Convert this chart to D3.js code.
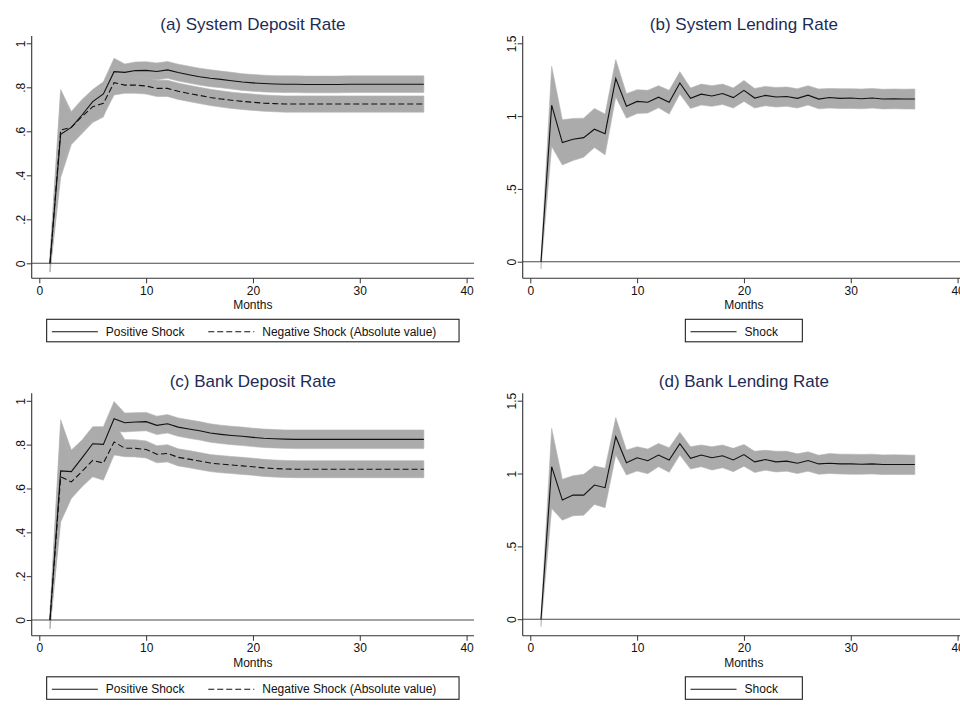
<!DOCTYPE html>
<html>
<head>
<meta charset="utf-8">
<script src="https://cdn.jsdelivr.net/npm/d3@7"></script>
<style>
  body { margin: 0; background: #fff; }
  svg { display: block; font-family: "Liberation Sans", Arial, Helvetica, sans-serif; }
</style>
</head>
<body>
<svg id="chart" width="960" height="705"></svg>
<script>
// months after the shock
var months = [1, 2, 3, 4, 5, 6, 7, 8, 9, 10, 11, 12, 13, 14, 15, 16, 17, 18,
              19, 20, 21, 22, 23, 24, 25, 26, 27, 28, 29, 30, 31, 32, 33, 34, 35, 36];

// (a) system deposit rate
var sdPos   = [0, 0.586, 0.618, 0.674, 0.735, 0.770, 0.871, 0.868, 0.876, 0.877, 0.872, 0.879, 0.867, 0.857, 0.848, 0.841, 0.836, 0.830,
               0.824, 0.820, 0.817, 0.815, 0.814, 0.814, 0.813, 0.813, 0.813, 0.813, 0.814, 0.814, 0.814, 0.814, 0.814, 0.814, 0.814, 0.814];
var sdPosHi = [0.03, 0.790, 0.690, 0.745, 0.790, 0.825, 0.932, 0.906, 0.915, 0.916, 0.911, 0.917, 0.905, 0.896, 0.887, 0.880, 0.874, 0.868,
               0.862, 0.858, 0.855, 0.853, 0.852, 0.852, 0.851, 0.851, 0.851, 0.851, 0.852, 0.852, 0.852, 0.852, 0.852, 0.852, 0.852, 0.852];
var sdPosLo = [-0.04, 0.390, 0.540, 0.590, 0.640, 0.665, 0.815, 0.830, 0.838, 0.839, 0.834, 0.841, 0.829, 0.819, 0.810, 0.803, 0.798, 0.792,
               0.786, 0.782, 0.779, 0.777, 0.776, 0.776, 0.775, 0.775, 0.775, 0.775, 0.776, 0.776, 0.776, 0.776, 0.776, 0.776, 0.776, 0.776];
var sdNeg   = [0, 0.606, 0.618, 0.667, 0.712, 0.727, 0.821, 0.810, 0.810, 0.806, 0.795, 0.795, 0.782, 0.772, 0.763, 0.754, 0.747, 0.741,
               0.736, 0.732, 0.728, 0.726, 0.724, 0.724, 0.724, 0.724, 0.724, 0.724, 0.724, 0.724, 0.724, 0.724, 0.724, 0.724, 0.724, 0.724];
var sdNegHi = [0.03, 0.770, 0.680, 0.740, 0.780, 0.800, 0.870, 0.847, 0.847, 0.843, 0.832, 0.832, 0.819, 0.809, 0.800, 0.791, 0.784, 0.778,
               0.773, 0.769, 0.765, 0.763, 0.761, 0.761, 0.761, 0.761, 0.761, 0.761, 0.761, 0.761, 0.761, 0.761, 0.761, 0.761, 0.761, 0.761];
var sdNegLo = [-0.04, 0.420, 0.560, 0.600, 0.645, 0.670, 0.765, 0.773, 0.773, 0.769, 0.758, 0.758, 0.745, 0.735, 0.726, 0.717, 0.710, 0.704,
               0.699, 0.695, 0.691, 0.689, 0.687, 0.687, 0.687, 0.687, 0.687, 0.687, 0.687, 0.687, 0.687, 0.687, 0.687, 0.687, 0.687, 0.687];

// (b) system lending rate
var sl   = [0, 1.075, 0.818, 0.841, 0.852, 0.910, 0.879, 1.258, 1.068, 1.101, 1.095, 1.130, 1.095, 1.227, 1.122, 1.151, 1.138, 1.155,
            1.127, 1.177, 1.124, 1.142, 1.131, 1.135, 1.122, 1.144, 1.117, 1.128, 1.122, 1.124, 1.119, 1.124, 1.117, 1.119, 1.117, 1.117];
var slHi = [0.02, 1.342, 0.975, 0.984, 0.986, 1.053, 1.014, 1.388, 1.154, 1.181, 1.177, 1.209, 1.177, 1.305, 1.193, 1.220, 1.209, 1.220,
            1.193, 1.245, 1.190, 1.204, 1.197, 1.200, 1.188, 1.209, 1.186, 1.190, 1.188, 1.188, 1.186, 1.190, 1.184, 1.186, 1.185, 1.186];
var slLo = [-0.05, 0.791, 0.665, 0.695, 0.718, 0.784, 0.734, 1.131, 0.986, 1.018, 1.021, 1.057, 1.014, 1.151, 1.053, 1.076, 1.067, 1.080,
            1.055, 1.101, 1.055, 1.071, 1.062, 1.067, 1.055, 1.076, 1.050, 1.055, 1.052, 1.053, 1.050, 1.055, 1.049, 1.050, 1.049, 1.048];

// (c) bank deposit rate
var bdPos   = [0, 0.680, 0.677, 0.740, 0.804, 0.801, 0.918, 0.900, 0.903, 0.905, 0.888, 0.895, 0.880, 0.871, 0.863, 0.853, 0.847, 0.842,
               0.838, 0.833, 0.829, 0.827, 0.825, 0.824, 0.824, 0.824, 0.824, 0.824, 0.824, 0.824, 0.824, 0.824, 0.824, 0.824, 0.824, 0.824];
var bdPosHi = [0.03, 0.913, 0.775, 0.821, 0.882, 0.882, 0.997, 0.944, 0.946, 0.947, 0.930, 0.937, 0.922, 0.913, 0.905, 0.895, 0.889, 0.884,
               0.880, 0.875, 0.871, 0.869, 0.867, 0.867, 0.867, 0.867, 0.867, 0.867, 0.867, 0.867, 0.867, 0.867, 0.867, 0.867, 0.867, 0.867];
var bdPosLo = [-0.04, 0.470, 0.580, 0.640, 0.690, 0.680, 0.860, 0.858, 0.861, 0.863, 0.846, 0.853, 0.838, 0.829, 0.821, 0.811, 0.805, 0.800,
               0.796, 0.791, 0.787, 0.785, 0.783, 0.782, 0.782, 0.782, 0.782, 0.782, 0.782, 0.782, 0.782, 0.782, 0.782, 0.782, 0.782, 0.782];
var bdNeg   = [0, 0.653, 0.630, 0.678, 0.728, 0.716, 0.812, 0.784, 0.783, 0.778, 0.756, 0.760, 0.742, 0.734, 0.725, 0.716, 0.711, 0.707,
               0.703, 0.699, 0.694, 0.691, 0.689, 0.688, 0.688, 0.688, 0.688, 0.688, 0.688, 0.688, 0.688, 0.688, 0.688, 0.688, 0.688, 0.688];
var bdNegHi = [0.03, 0.880, 0.720, 0.770, 0.820, 0.810, 0.900, 0.823, 0.822, 0.817, 0.795, 0.800, 0.781, 0.773, 0.764, 0.755, 0.750, 0.746,
               0.742, 0.738, 0.733, 0.730, 0.728, 0.727, 0.727, 0.727, 0.727, 0.727, 0.727, 0.727, 0.727, 0.727, 0.727, 0.727, 0.727, 0.727];
var bdNegLo = [-0.04, 0.447, 0.554, 0.608, 0.653, 0.638, 0.753, 0.745, 0.744, 0.739, 0.717, 0.721, 0.703, 0.695, 0.686, 0.677, 0.672, 0.668,
               0.664, 0.660, 0.655, 0.652, 0.650, 0.649, 0.649, 0.649, 0.649, 0.649, 0.649, 0.649, 0.649, 0.649, 0.649, 0.649, 0.649, 0.649];

// (d) bank lending rate
var bl   = [0, 1.047, 0.818, 0.852, 0.852, 0.921, 0.903, 1.253, 1.074, 1.108, 1.088, 1.127, 1.093, 1.205, 1.104, 1.127, 1.108, 1.122,
            1.093, 1.130, 1.080, 1.096, 1.080, 1.085, 1.071, 1.089, 1.066, 1.071, 1.066, 1.066, 1.064, 1.066, 1.062, 1.062, 1.062, 1.062];
var blHi = [0.02, 1.310, 0.960, 0.985, 0.995, 1.052, 1.036, 1.384, 1.161, 1.184, 1.168, 1.207, 1.177, 1.283, 1.184, 1.196, 1.184, 1.196,
            1.173, 1.199, 1.153, 1.160, 1.153, 1.153, 1.135, 1.149, 1.126, 1.137, 1.133, 1.133, 1.131, 1.133, 1.128, 1.129, 1.128, 1.126];
var blLo = [-0.05, 0.760, 0.680, 0.710, 0.714, 0.788, 0.765, 1.127, 0.990, 1.017, 0.999, 1.047, 1.008, 1.127, 1.031, 1.047, 1.024, 1.040,
            1.013, 1.050, 1.007, 1.023, 1.011, 1.016, 1.000, 1.016, 0.995, 1.000, 0.997, 0.995, 0.995, 0.997, 0.993, 0.994, 0.993, 0.993];

var xTicks = [0, 10, 20, 30, 40];
var depositTicks = [0, 0.2, 0.4, 0.6, 0.8, 1];
var lendingTicks = [0, 0.5, 1, 1.5];

var panels = [
    { title: "(a) System Deposit Rate", left: 31.7, top: 36, bottom: 278.3, yMax: 1, yTop: 43.3, yZero: 263.3, ticks: depositTicks,
      series: [{ mid: sdPos, lo: sdPosLo, hi: sdPosHi, dash: null, label: "Positive Shock" },
               { mid: sdNeg, lo: sdNegLo, hi: sdNegHi, dash: "6,3", label: "Negative Shock (Absolute value)" }] },
    { title: "(b) System Lending Rate", left: 522.7, top: 36, bottom: 278.3, yMax: 1.5, yTop: 43.3, yZero: 261.7, ticks: lendingTicks,
      series: [{ mid: sl, lo: slLo, hi: slHi, dash: null, label: "Shock" }] },
    { title: "(c) Bank Deposit Rate", left: 31.7, top: 393.3, bottom: 635.8, yMax: 1, yTop: 400.8, yZero: 620, ticks: depositTicks,
      series: [{ mid: bdPos, lo: bdPosLo, hi: bdPosHi, dash: null, label: "Positive Shock" },
               { mid: bdNeg, lo: bdNegLo, hi: bdNegHi, dash: "6,3", label: "Negative Shock (Absolute value)" }] },
    { title: "(d) Bank Lending Rate", left: 522.7, top: 393.3, bottom: 635.8, yMax: 1.5, yTop: 400.7, yZero: 619.2, ticks: lendingTicks,
      series: [{ mid: bl, lo: blLo, hi: blHi, dash: null, label: "Shock" }] }
];

var plotWidth = 442.3;

function stataFormat(d)
{
    if (d === 0) return "0";
    return String(d).replace(/^0\./, ".");
}

var svg = d3.select("#chart");

svg.append("rect")
    .attr("width", 960)
    .attr("height", 705)
    .attr("fill", "#fff");

panels.forEach(function(p)
{
    var right = p.left + plotWidth;
    var mid = p.left + plotWidth / 2;

    var x = d3.scaleLinear()
        .domain([0, 40])
        .range([p.left + 7.6, right - 7.4]);

    var y = d3.scaleLinear()
        .domain([0, p.yMax])
        .range([p.yZero, p.yTop]);

    var g = svg.append("g");

    // title
    g.append("text")
        .attr("x", mid)
        .attr("y", p.top - 6.5)
        .attr("text-anchor", "middle")
        .attr("font-size", 17)
        .attr("fill", "#1d2c56")
        .text(p.title);

    // confidence bands
    var area = d3.area()
        .x(function(d, i) { return x(months[i]); })
        .y0(function(d) { return y(d[0]); })
        .y1(function(d) { return y(d[1]); });

    p.series.forEach(function(s)
    {
        g.append("path")
            .datum(s.lo.map(function(v, i) { return [v, s.hi[i]]; }))
            .attr("d", area)
            .attr("fill", "#ababab")
            .attr("stroke", "#b4b4b4")
            .attr("stroke-width", 0.6);
    });

    // zero line
    g.append("line")
        .attr("x1", p.left)
        .attr("x2", right)
        .attr("y1", y(0))
        .attr("y2", y(0))
        .attr("stroke", "#4a4a4a")
        .attr("stroke-width", 1.1);

    // response lines
    var line = d3.line()
        .x(function(d, i) { return x(months[i]); })
        .y(function(d) { return y(d); });

    p.series.forEach(function(s)
    {
        g.append("path")
            .datum(s.mid)
            .attr("d", line)
            .attr("fill", "none")
            .attr("stroke", "#111")
            .attr("stroke-width", 1.1)
            .attr("stroke-dasharray", s.dash);
    });

    // axes
    var yAxis = g.append("g")
        .attr("transform", "translate(" + p.left + ",0)")
        .call(d3.axisLeft(y).tickValues(p.ticks).tickSize(5).tickFormat(stataFormat));

    yAxis.select(".domain").remove();
    yAxis.selectAll("line").attr("stroke", "#333");
    yAxis.selectAll("text")
        .attr("transform", "rotate(-90)")
        .attr("x", 0)
        .attr("y", -6.7)
        .attr("dy", null)
        .attr("text-anchor", "middle")
        .attr("font-size", 12)
        .attr("font-family", null)
        .attr("fill", "#111");

    var xAxis = g.append("g")
        .attr("transform", "translate(0," + p.bottom + ")")
        .call(d3.axisBottom(x).tickValues(xTicks).tickSize(5));

    xAxis.select(".domain").remove();
    xAxis.selectAll("line").attr("stroke", "#333");
    xAxis.selectAll("text")
        .attr("font-size", 12)
        .attr("font-family", null)
        .attr("fill", "#111");

    g.append("line")
        .attr("x1", p.left)
        .attr("x2", p.left)
        .attr("y1", p.top)
        .attr("y2", p.bottom)
        .attr("stroke", "#333")
        .attr("stroke-width", 1.1);

    g.append("line")
        .attr("x1", p.left)
        .attr("x2", right)
        .attr("y1", p.bottom)
        .attr("y2", p.bottom)
        .attr("stroke", "#333")
        .attr("stroke-width", 1.1);

    g.append("text")
        .attr("x", mid)
        .attr("y", p.bottom + 31)
        .attr("text-anchor", "middle")
        .attr("font-size", 12)
        .attr("fill", "#111")
        .text("Months");

    // legend
    var boxW = p.series.length > 1 ? 412.4 : 117;
    var boxX = mid - boxW / 2;
    var boxY = p.bottom + 41;
    var legend = g.append("g");

    legend.append("rect")
        .attr("x", boxX)
        .attr("y", boxY)
        .attr("width", boxW)
        .attr("height", 22.5)
        .attr("fill", "#fff")
        .attr("stroke", "#222")
        .attr("stroke-width", 1.1);

    var offsets = [5.2, 161.6];
    p.series.forEach(function(s, i)
    {
        var lx = boxX + offsets[i];
        legend.append("line")
            .attr("x1", lx)
            .attr("x2", lx + 46)
            .attr("y1", boxY + 12.4)
            .attr("y2", boxY + 12.4)
            .attr("stroke", "#111")
            .attr("stroke-width", 1.1)
            .attr("stroke-dasharray", s.dash);

        legend.append("text")
            .attr("x", lx + 54)
            .attr("y", boxY + 16.6)
            .attr("font-size", 12)
            .attr("fill", "#111")
            .text(s.label);
    });
});
</script>
</body>
</html>
